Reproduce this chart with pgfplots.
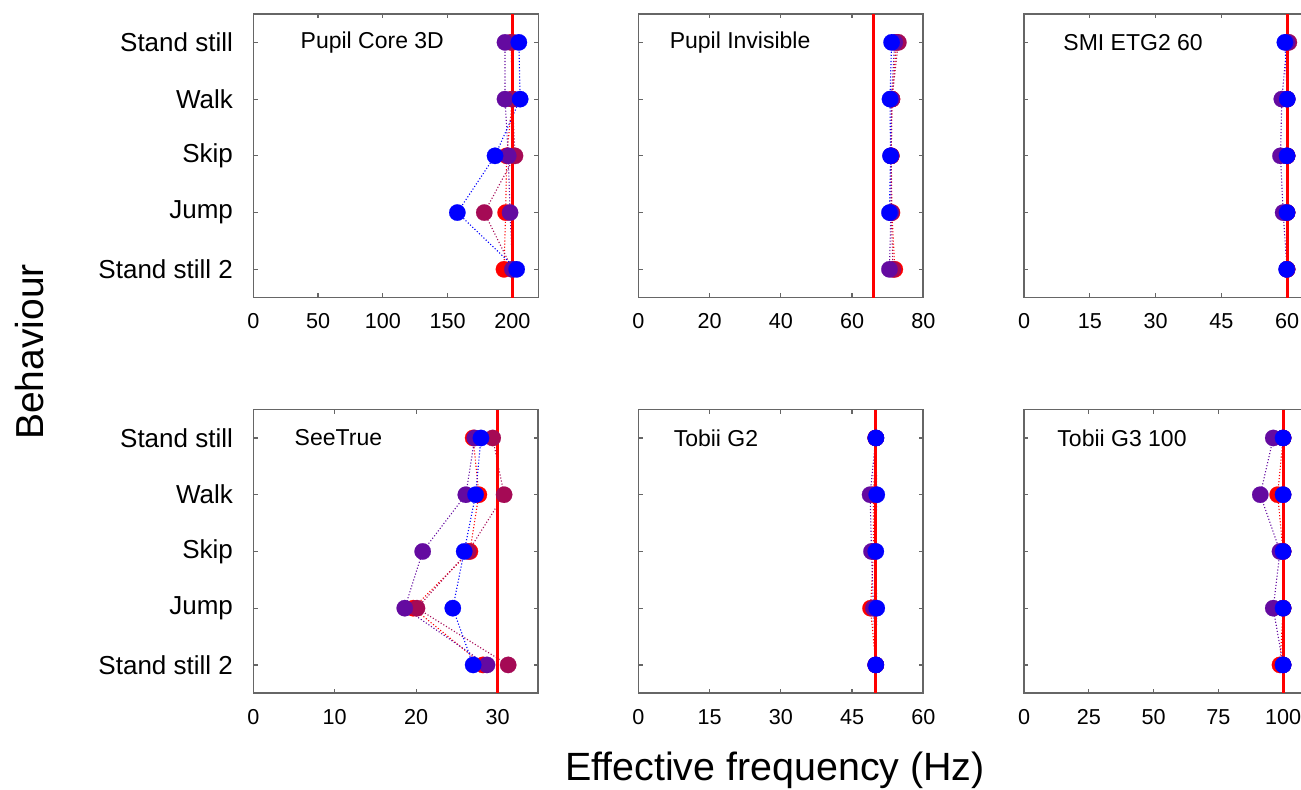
\documentclass[border=0pt]{standalone}
\usepackage{pgfplots}
\pgfplotsset{compat=1.18}
\usepackage{pgfplotstable}
\usepackage{fontspec}
\setmainfont{Liberation Sans}

\definecolor{cR}{RGB}{255,0,0}
\definecolor{cC}{RGB}{165,10,85}
\definecolor{cP}{RGB}{100,10,160}
\definecolor{cB}{RGB}{0,0,255}

% effective frequency per behaviour, one column per participant
\pgfplotstableread{
y r c p b
1 200 199 194.3 205
2 200 200 194.3 206
3 195.6 202 196.8 186.6
4 194.8 178.3 198.2 157.5
5 193.5 200 200.2 203.3
}\tabA
\pgfplotstableread{
y r c p b
1 72.5 73.0 72.0 71.1
2 71.2 71.2 71.0 70.65
3 71.0 71.0 70.9 70.8
4 71.2 71.0 70.9 70.5
5 72.0 71.5 70.5 nan
}\tabB
\pgfplotstableread{
y r c p b
1 60 60.4 60 59.5
2 60 60 58.8 60.05
3 60 60 58.5 60.0
4 60 60 59.1 60.0
5 60 60 60 59.9
}\tabC
\pgfplotstableread{
y r c p b
1 27.0 29.4 27.2 27.96
2 27.7 30.8 26.1 27.3
3 26.6 26.4 20.8 25.9
4 19.65 20.1 18.6 24.5
5 28.2 31.3 28.7 27.0
}\tabD
\pgfplotstableread{
y r c p b
1 50 50 50 50.04
2 49.5 50 48.8 50.2
3 49.5 49.8 49.1 50.0
4 48.9 49.8 49.5 50.2
5 50 50 50 50.0
}\tabE
\pgfplotstableread{
y r c p b
1 100 100 96.2 100
2 97.9 100 91.2 100
3 100 100 98.8 100
4 100 100 96.2 100
5 98.8 100 100 100
}\tabF

\pgfplotsset{
  panel/.style={
    scale only axis, width=142.5pt, height=141.85pt,
    anchor=south west,
    xmin=0, ymin=0.5, ymax=5.5, y dir=reverse,
    ytick={1,2,3,4,5},
    tick align=inside, major tick length=2.2pt,
    axis line style={black!60, line width=0.8pt},
    tick style={black!60, line width=0.6pt},
    xticklabel style={font=\fontsize{10.8}{12}\selectfont, inner sep=0pt,
      text height=7.8pt, text depth=0pt, yshift=-7.5pt},
    yticklabel style={font=\fontsize{13}{15}\selectfont, inner sep=0pt, xshift=-10pt},
    /pgf/number format/assume math mode=true,
    scaled ticks=false,
  },
  noylab/.style={yticklabels={}},
  ylab/.style={yticklabels={Stand still,Walk,Skip,Jump,Stand still 2}},
  ser/.style={color=#1, line width=0.55pt, dash pattern=on 0.55pt off 1pt,
    mark=*, mark size=4.1pt, mark options={solid, fill=#1, draw=#1, line width=0.1pt}},
}
\newcommand{\fourplots}[1]{
  \addplot[ser=cR] table[x=r,y=y]{#1};
  \addplot[ser=cC] table[x=c,y=y]{#1};
  \addplot[ser=cP] table[x=p,y=y]{#1};
  \addplot[ser=cB] table[x=b,y=y]{#1};
}
\newcommand{\refline}[1]{
  \addplot[red, line width=1.5pt] coordinates {(#1,0.5) (#1,5.5)};
}
\newcommand{\ptitle}[2]{
  \node[anchor=west, inner sep=0pt, font=\fontsize{11.5}{13}\selectfont] at (axis description cs:#1,0.9) {#2};
}

\begin{document}
\begin{tikzpicture}
\useasboundingbox (0,0) rectangle (650.5pt,395pt);
\clip (0,0) rectangle (650.5pt,395pt);

% top row
\begin{axis}[panel, ylab, at={(126.65pt,246.15pt)}, xmax=220, xtick={0,50,100,150,200}]
  \fourplots{\tabA}
  \refline{200}
  \ptitle{0.165}{Pupil Core 3D}
\end{axis}
\begin{axis}[panel, noylab, at={(319.15pt,246.15pt)}, xmax=80, xtick={0,20,40,60,80}]
  \fourplots{\tabB}
  \refline{66}
  \ptitle{0.109}{Pupil Invisible}
\end{axis}
\begin{axis}[panel, noylab, at={(512pt,246.15pt)}, xmax=65, xtick={0,15,30,45,60}]
  \fourplots{\tabC}
  \refline{60}
  \ptitle{0.137}{SMI ETG2 60}
\end{axis}

% bottom row
\begin{axis}[panel, ylab, at={(126.65pt,48.35pt)}, xmax=35, xtick={0,10,20,30}]
  \fourplots{\tabD}
  \refline{30}
  \ptitle{0.144}{SeeTrue}
\end{axis}
\begin{axis}[panel, noylab, at={(319.15pt,48.35pt)}, xmax=60, xtick={0,15,30,45,60}]
  \fourplots{\tabE}
  \refline{50}
  \ptitle{0.123}{Tobii G2}
\end{axis}
\begin{axis}[panel, noylab, at={(512pt,48.35pt)}, xmax=110, xtick={0,25,50,75,100}]
  \fourplots{\tabF}
  \refline{100}
  \ptitle{0.116}{Tobii G3 100}
\end{axis}

\node[font=\fontsize{19.7}{22}\selectfont] at (387.5pt,10pt) {Effective frequency (Hz)};
\node[font=\fontsize{19.5}{22}\selectfont, rotate=90] at (15pt,219pt) {Behaviour};
\end{tikzpicture}
\end{document}
